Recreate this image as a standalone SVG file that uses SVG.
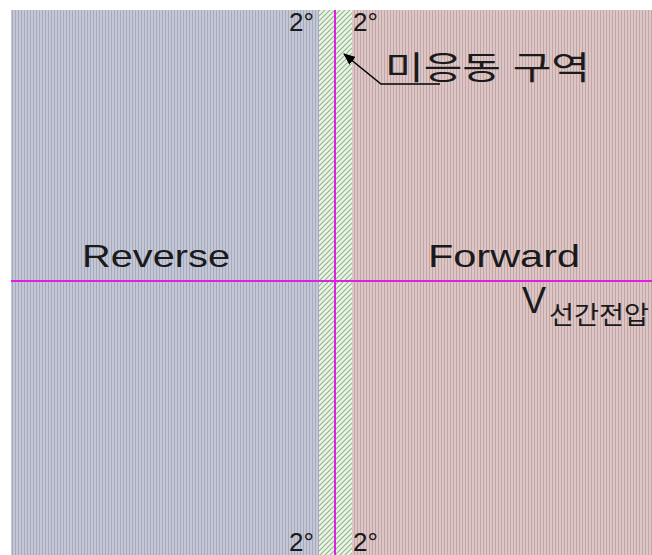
<svg xmlns="http://www.w3.org/2000/svg" width="652" height="555" viewBox="0 0 652 555">
<style>
text{font-family:"Liberation Sans","Noto Sans CJK KR",sans-serif;fill:#1a1a1a}
.deg{font-size:26px}
.lbl{font-size:32px}
.axis{stroke:#e020e0;stroke-width:2;fill:none}
</style>
<defs>
<pattern id="pb" width="3" height="4" patternUnits="userSpaceOnUse">
<rect width="3" height="4" fill="#c4c7d6"/>
<rect width="1" height="4" fill="#a7aabd"/>
</pattern>
<pattern id="pr" width="3" height="4" patternUnits="userSpaceOnUse">
<rect width="3" height="4" fill="#dcc6c6"/>
<rect width="1" height="4" fill="#c3a5a6"/>
</pattern>
<pattern id="pg" width="5" height="5" patternUnits="userSpaceOnUse">
<rect width="5" height="5" fill="#eef3e8"/>
<path d="M-1,6 L6,-1 M-1,1 L1,-1 M4,6 L6,4" stroke="#8fb88f" stroke-width="1.2"/>
</pattern>
<marker id="ah" markerWidth="12" markerHeight="10" refX="11" refY="5" orient="auto" markerUnits="userSpaceOnUse">
<path d="M0,0 L12,5 L0,10 Z" fill="#000"/>
</marker>
</defs>
<rect width="652" height="555" fill="#fff"/>
<g id="reverse">
<rect x="11" y="10" width="308" height="545" fill="url(#pb)"/>
<text class="lbl" x="82" y="267" textLength="148" lengthAdjust="spacingAndGlyphs">Reverse</text>
</g>
<g id="deadzone">
<rect x="319" y="10" width="33" height="545" fill="url(#pg)"/>
</g>
<g id="forward">
<rect x="352" y="10" width="300" height="545" fill="url(#pr)"/>
<text class="lbl" x="428" y="267" textLength="152" lengthAdjust="spacingAndGlyphs">Forward</text>
</g>
<g id="axes">
<line class="axis" x1="335" y1="10" x2="335" y2="555"/>
<line class="axis" x1="11" y1="281" x2="652" y2="281"/>
</g>
<g id="labels">
<text class="deg" x="289" y="31">2°</text>
<text class="deg" x="353" y="31">2°</text>
<text class="deg" x="289" y="551">2°</text>
<text class="deg" x="353" y="551">2°</text>
<text x="522" y="313" style="font-size:36px">V</text>
<text x="549" y="324" style="font-size:25px" textLength="100" lengthAdjust="spacingAndGlyphs">선간전압</text>
<text x="385" y="79" style="font-size:32px" textLength="205" lengthAdjust="spacingAndGlyphs">미응동 구역</text>
</g>
<g id="connectors">
<polyline points="440,84 381,84 344,54" fill="none" stroke="#000" stroke-width="1.5" marker-end="url(#ah)"/>
</g>
</svg>
